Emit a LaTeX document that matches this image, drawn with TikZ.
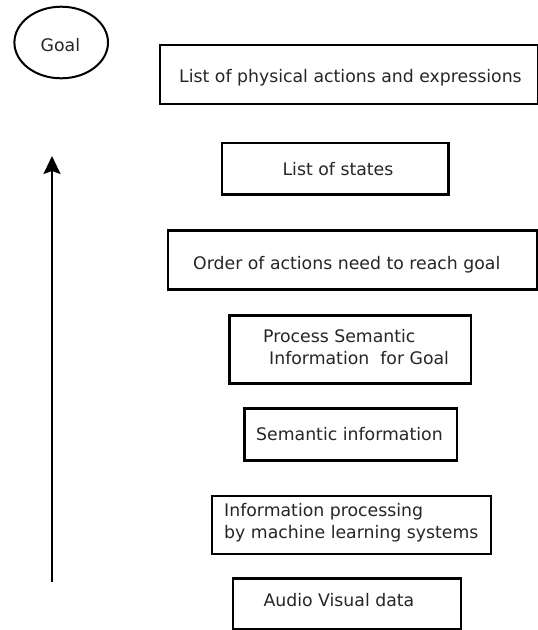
\documentclass[tikz,border=0pt]{standalone}
\usepackage{fontspec}
\setmainfont{DejaVu Sans}
\usetikzlibrary{shapes.geometric,arrows.meta}
\begin{document}
\begin{tikzpicture}[x=1pt,y=-1pt,
  stagebox/.style={draw, rectangle, line width=2.4pt, anchor=north west, inner sep=0pt},
  goalshape/.style={draw, ellipse, line width=2pt, inner sep=0pt},
  lbl/.style={anchor=base west, inner sep=0pt, align=left, text=black!85, font={\fontsize{17.3}{21.5}\selectfont}},
  flow/.style={line width=2pt, -{Stealth[length=18pt,width=17pt,inset=3pt]}}]
\useasboundingbox[fill=white] (0,0) rectangle (538,630);
% goal
\node[goalshape, minimum width=93.6pt, minimum height=71.6pt] (goal) at (61.2,42.5) {};
\node[lbl] (goaltxt) at (40.5,51.7) {Goal};
% boxes
\node[stagebox, minimum width=378.5pt, minimum height=59.2pt] (b1) at (158.5,43.5) {};
\node[stagebox, minimum width=226.5pt, minimum height=51.6pt] (b2) at (220.7,141.7) {};
\node[stagebox, minimum width=369.3pt, minimum height=59pt] (b3) at (166.7,229.3) {};
\node[stagebox, minimum width=241.7pt, minimum height=68pt] (b4) at (228.3,314.3) {};
\node[stagebox, minimum width=212.7pt, minimum height=52pt] (b5) at (243.3,407.3) {};
\node[stagebox, minimum width=279pt, minimum height=57.7pt] (b6) at (211,495) {};
\node[stagebox, minimum width=228.3pt, minimum height=51pt] (b7) at (231.7,577.3) {};
% texts (multi-line nodes: base = last line)
\node[lbl] (t1) at (179,82) {List of physical actions and expressions};
\node[lbl] (t2) at (282.4,175) {List of states};
\node[lbl] (t3) at (193,269.3) {Order of actions need to reach goal};
\node[lbl] (t4) at (263,364) {Process Semantic\\\hspace*{6pt}Information\ \ for Goal};
\node[lbl] (t5) at (256,440.7) {Semantic information};
\node[lbl] (t6) at (224,538.3) {Information processing\\by machine learning systems};
\node[lbl] (t7) at (263.3,606.7) {Audio Visual data};
% arrow
\coordinate (abot) at (52,582);
\coordinate (atop) at (52,156);
\draw[flow] (abot) -- (atop);
\end{tikzpicture}
\end{document}
